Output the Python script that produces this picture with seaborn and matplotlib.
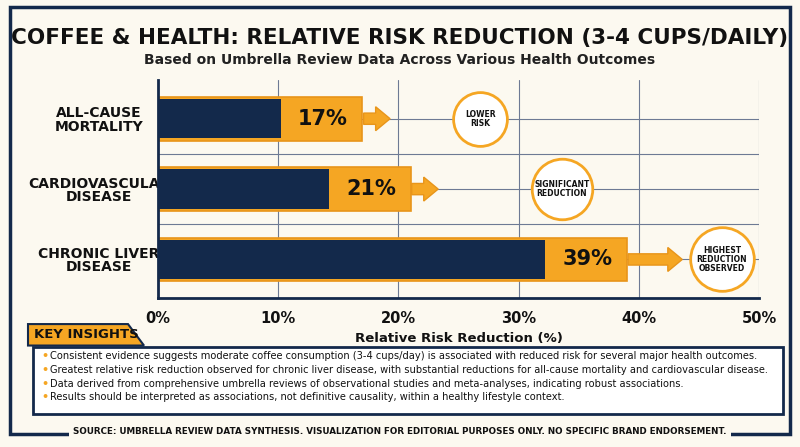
import matplotlib
matplotlib.use("Agg")
import matplotlib.pyplot as plt
import seaborn as sns
import pandas as pd
from matplotlib.patches import Rectangle, FancyArrow, Polygon

categories = ["ALL-CAUSE\nMORTALITY", "CARDIOVASCULAR\nDISEASE", "CHRONIC LIVER\nDISEASE"]
values = [17, 21, 39]
badges = ["LOWER\nRISK", "SIGNIFICANT\nREDUCTION", "HIGHEST\nREDUCTION\nOBSERVED"]
xticks = [0, 10, 20, 30, 40, 50]
insights = [
    "Consistent evidence suggests moderate coffee consumption (3-4 cups/day) is associated with reduced risk for several major health outcomes.",
    "Greatest relative risk reduction observed for chronic liver disease, with substantial reductions for all-cause mortality and cardiovascular disease.",
    "Data derived from comprehensive umbrella reviews of observational studies and meta-analyses, indicating robust associations.",
    "Results should be interpreted as associations, not definitive causality, within a healthy lifestyle context.",
]

NAVY = "#13294b"
GOLD = "#f5a623"
BG = "#fcf9f0"

sns.set_theme(style="white")
plt.rcParams["font.family"] = ["DejaVu Sans"]

df = pd.DataFrame({"cat": categories, "val": values})
df["navy"] = df["val"] - 6.8

fig = plt.figure(figsize=(8, 4.47), dpi=100, facecolor=BG)
ax = fig.add_axes([0.1975, 0.333, 0.7515, 0.488])
ax.set_facecolor(BG)

sns.barplot(data=df, y="cat", x="val", color=GOLD, orient="h", width=0.62,
            edgecolor="#e8951a", linewidth=1.2, saturation=1, ax=ax)
sns.barplot(data=df, y="cat", x="navy", color=NAVY, orient="h", width=0.56,
            saturation=1, linewidth=0, ax=ax)

ax.set_xlim(0, 50)
ax.set_xticks(xticks)
ax.set_xticklabels([f"{t}%" for t in xticks], fontsize=10.5, fontweight="bold", color="#111")
ax.tick_params(axis="y", labelsize=10, colors="#111", length=0)
for lab in ax.get_yticklabels():
    lab.set_fontweight("bold"); lab.set_ha("center"); lab.set_x(-0.09)
    lab.set_linespacing(0.95)
ax.set_ylabel("")
ax.set_xlabel("Relative Risk Reduction (%)", fontsize=9.5, fontweight="bold", color="#111", labelpad=4)
ax.grid(True, color="#6d7a94", linewidth=0.8)
ax.set_axisbelow(True)
for i in [0.5, 1.5]:
    ax.axhline(i, color="#6d7a94", lw=0.8, zorder=0)
for s in ["top", "right"]:
    ax.spines[s].set_visible(False)
for s in ["left", "bottom"]:
    ax.spines[s].set_color(NAVY); ax.spines[s].set_linewidth(2)
ax.set_ylim(2.55, -0.55)

offsets = [9.8, 12.6, 7.9]
sizes = [1500, 1900, 2100]
for i, (v, b) in enumerate(zip(values, badges)):
    ax.text(v - 3.3, i, f"{v}%", ha="center", va="center", fontsize=15,
            fontweight="bold", color="#111", zorder=5)
    L = 2.2 if i < 2 else 4.5
    ax.add_patch(FancyArrow(v + 0.1, i, L, 0, width=0.16, head_width=0.34,
                            head_length=1.2, color=GOLD, ec="#e8951a", zorder=4,
                            length_includes_head=True))
    cx = v + offsets[i]
    ax.scatter([cx], [i], s=sizes[i], facecolor="white", edgecolor=GOLD,
               linewidth=2, zorder=5, clip_on=False)
    ax.text(cx, i, b, ha="center", va="center", fontsize=5.5, fontweight="bold",
            color="#111", zorder=6, linespacing=1.0)

fig.patches.append(Rectangle((0.012, 0.03), 0.976, 0.955, transform=fig.transFigure,
                             fill=False, ec=NAVY, lw=2.5))
fig.text(0.5, 0.915, "COFFEE & HEALTH: RELATIVE RISK REDUCTION (3-4 CUPS/DAILY)",
         ha="center", va="center", fontsize=15.5, fontweight="bold", color="#111")
fig.text(0.5, 0.865, "Based on Umbrella Review Data Across Various Health Outcomes",
         ha="center", va="center", fontsize=10, fontweight="bold", color="#222")

fig.patches.append(Rectangle((0.041, 0.073), 0.938, 0.15, transform=fig.transFigure,
                             facecolor="white", ec=NAVY, lw=2))
fig.patches.append(Polygon([(0.035, 0.227), (0.035, 0.275), (0.16, 0.275), (0.18, 0.227)],
                           closed=True, transform=fig.transFigure, fc=GOLD, ec=NAVY, lw=1.5))
fig.text(0.043, 0.251, "KEY INSIGHTS", ha="left", va="center", fontsize=9.5,
         fontweight="bold", color="#111")
for k, t in enumerate(insights):
    y = 0.203 - k * 0.0305
    fig.text(0.052, y, "•", color=GOLD, fontsize=8, va="center", fontweight="bold")
    fig.text(0.062, y, t, ha="left", va="center", fontsize=7.1, color="#111")

fig.text(0.5, 0.035, "SOURCE: UMBRELLA REVIEW DATA SYNTHESIS. VISUALIZATION FOR EDITORIAL PURPOSES ONLY. NO SPECIFIC BRAND ENDORSEMENT.",
         ha="center", va="center", fontsize=6.3, fontweight="bold", color="#111",
         bbox=dict(fc=BG, ec="none", pad=3))

fig.savefig("out.png", dpi=100, facecolor=BG)
